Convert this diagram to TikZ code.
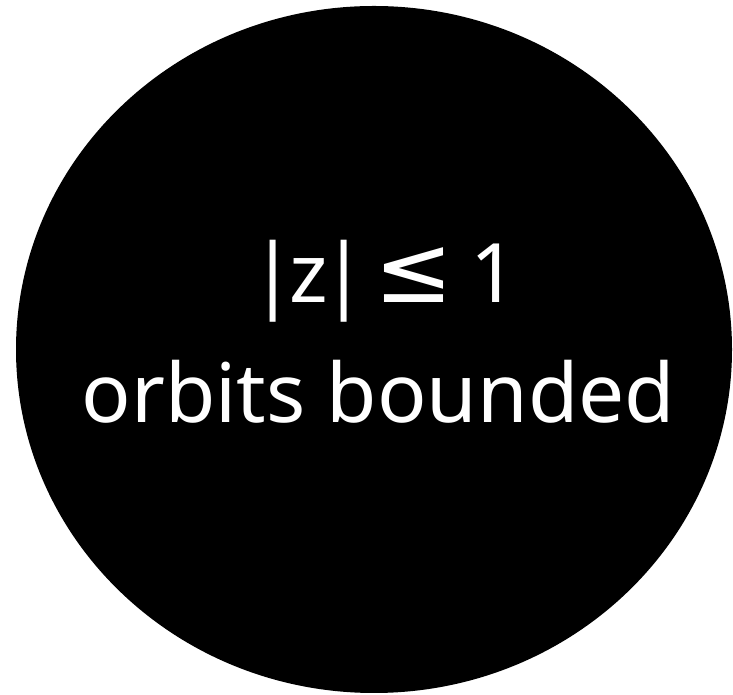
\documentclass[tikz,border=0pt]{standalone}
\usepackage{fontspec}
\setmainfont{Noto Sans}
\newfontfamily\symfnt[Scale=1.15]{DejaVu Sans}
\begin{document}
\begin{tikzpicture}[x=1pt,y=1pt,
  blob/.style={fill=black,draw=none},
  lbl/.style={text=white,font=\fontsize{82}{120}\selectfont,anchor=base,inner sep=0pt}]
\useasboundingbox (0,0) rectangle (733,695);
\fill[blob] (374,345.5) ellipse [x radius=358, y radius=343.5];
\node[lbl] (l1) at (384,392) {|\kern-0.08em z\kern-0.08em|\kern0.1em{\symfnt ≤}\kern0.2em 1};
\node[lbl] (l2) at (378.5,272) {orbits bounded};
\end{tikzpicture}
\end{document}
